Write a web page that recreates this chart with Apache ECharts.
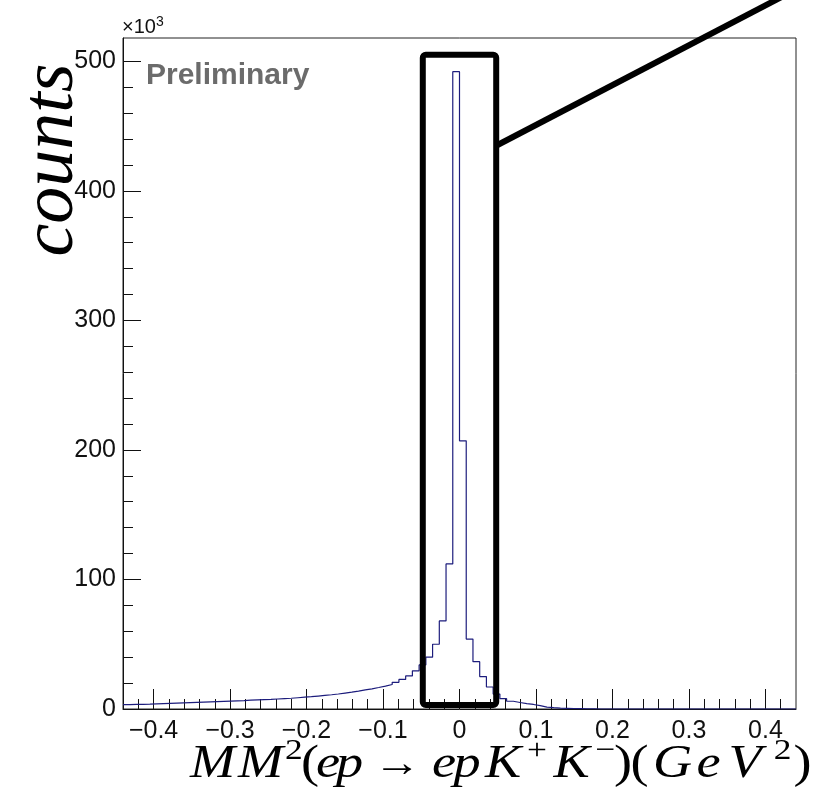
<!DOCTYPE html>
<html><head><meta charset="utf-8">
<script src="https://cdn.jsdelivr.net/npm/echarts@6/dist/echarts.min.js"></script>
<style>html,body{margin:0;padding:0;background:#fff}#c{width:816px;height:805px}</style>
</head><body><div id="c"></div>
<script>
// ---- data (counts in units of 10^3) ----
const binLow = -0.44, binHigh = 0.44, nBins = 100;
// bins from -0.44 up to 0
const countsLeft = [
  3.4, 3.5, 3.6, 3.7, 3.9, 4.1, 4.3, 4.5, 4.7, 4.9,
  5.1, 5.3, 5.5, 5.7, 5.9, 6.1, 6.3, 6.5, 6.8, 7.0,
  7.2, 7.4, 7.7, 8.0, 8.3, 8.7, 9.1, 9.5, 10.0, 10.5,
  11.0, 11.6, 12.3, 13.0, 13.8, 14.7, 15.6, 16.6, 17.7, 18.9,
  20.6, 22.8, 25.5, 29.5, 34, 40, 50, 68, 112, 492
];
// bins from 0 up to 0.44
const countsRight = [
  207, 54, 36.5, 25, 17, 11.5, 8, 6, 5, 4.2,
  3.5, 2.6, 1.5, 1.0, 0.6, 0.5, 0.4, 0.3, 0.2, 0.2,
  0, 0, 0, 0, 0, 0, 0, 0, 0, 0,
  0, 0, 0, 0, 0, 0, 0, 0, 0, 0,
  0, 0, 0, 0, 0, 0, 0, 0, 0, 0
];
const xMajorTicks = [-0.4, -0.3, -0.2, -0.1, 0, 0.1, 0.2, 0.3, 0.4];
const xMinorTicks = [-0.42, -0.38, -0.36, -0.34, -0.32, -0.28, -0.26, -0.24, -0.22,
  -0.18, -0.16, -0.14, -0.12, -0.08, -0.06, -0.04, -0.02,
  0.02, 0.04, 0.06, 0.08, 0.12, 0.14, 0.16, 0.18, 0.22, 0.24, 0.26, 0.28,
  0.32, 0.34, 0.36, 0.38, 0.42];
const yMajorTicks = [0, 100, 200, 300, 400, 500];
const yMinorTicks = [20, 40, 60, 80, 120, 140, 160, 180, 220, 240, 260, 280,
  320, 340, 360, 380, 420, 440, 460, 480];
const yMax = 518;
// annotation box and pointer (data coordinates)
const boxX = [-0.048, 0.048];
const boxY = [3, 505];
const pointerFrom = [0.0485, 435];
const pointerTo = [0.445, 557];

// ---- build histogram step data ----
const counts = countsLeft.concat(countsRight);
const binWidth = (binHigh - binLow) / nBins;
const histData = counts.map((v, i) => [binLow + i * binWidth, v]);
histData.push([binHigh, counts[counts.length - 1]]);

const fmtX = v => Math.abs(v) < 1e-9 ? '0' : (v < 0 ? '\u2212' : '') + Math.abs(v).toFixed(1);

const chart = echarts.init(document.getElementById('c'), null, {renderer: 'canvas'});
const axisCommon = {type: 'value', splitLine: {show: false}};
const labelFont = {color: '#111', fontSize: 25, fontFamily: 'Liberation Sans'};
chart.setOption({
  animation: false,
  backgroundColor: '#fff',
  grid: {left: 123, right: 20, top: 38, bottom: 96, show: true, borderColor: '#222', borderWidth: 1, backgroundColor: 'transparent'},
  xAxis: [
    Object.assign({}, axisCommon, {
      min: binLow, max: binHigh, position: 'bottom',
      axisLine: {show: true, onZero: false, lineStyle: {color: '#111', width: 1}},
      axisTick: {show: true, inside: true, length: 20, customValues: xMajorTicks, lineStyle: {color: '#111', width: 1}},
      axisLabel: Object.assign({show: true, customValues: xMajorTicks, formatter: fmtX, margin: 10}, labelFont)
    }),
    Object.assign({}, axisCommon, {
      min: binLow, max: binHigh, position: 'bottom',
      axisLine: {show: false, onZero: false},
      axisTick: {show: true, inside: true, length: 10, customValues: xMinorTicks, lineStyle: {color: '#111', width: 1}},
      axisLabel: {show: false}
    })
  ],
  yAxis: [
    Object.assign({}, axisCommon, {
      min: 0, max: yMax, position: 'left',
      axisLine: {show: true, onZero: false, lineStyle: {color: '#111', width: 1}},
      axisTick: {show: true, inside: true, length: 18, customValues: yMajorTicks, lineStyle: {color: '#111', width: 1}},
      axisLabel: Object.assign({show: true, customValues: yMajorTicks, margin: 7}, labelFont)
    }),
    Object.assign({}, axisCommon, {
      min: 0, max: yMax, position: 'left',
      axisLine: {show: false, onZero: false},
      axisTick: {show: true, inside: true, length: 10, customValues: yMinorTicks, lineStyle: {color: '#111', width: 1}},
      axisLabel: {show: false}
    })
  ],
  series: [{
    type: 'line', xAxisIndex: 0, yAxisIndex: 0, step: 'end',
    data: histData, symbol: 'none', clip: true,
    lineStyle: {color: '#1c1c7c', width: 1.2}
  }]
});

const toPx = p => chart.convertToPixel({xAxisIndex: 0, yAxisIndex: 0}, p);
const b0 = toPx([boxX[0], boxY[1]]);
const b1 = toPx([boxX[1], boxY[0]]);
const l0 = toPx(pointerFrom);
const l1 = toPx(pointerTo);

// x-axis title, laid out glyph by glyph (LaTeX-like math italic)
const titleScale = 1.18;
const baseStyles = {
  i: {fontFamily: 'Liberation Serif', fontStyle: 'italic', fontSize: 46, lineHeight: 58},
  r: {fontFamily: 'Liberation Serif', fontSize: 46, lineHeight: 58},
  a: {fontFamily: 'Liberation Serif', fontSize: 40, lineHeight: 58, align: 'center'},
  s: {fontFamily: 'Liberation Serif', fontSize: 30, lineHeight: 13, verticalAlign: 'top'}
};
const titleGlyphs = [
  ['M', 'i', 48], ['M', 'i', 47], ['2', 's', 16], ['(', 'r', 15], ['e', 'i', 20], ['p', 'i', 25],
  ['\u2192', 'a', 72], ['e', 'i', 22], ['p', 'i', 24], ['K', 'i', 48], ['+', 's', 20],
  ['K', 'i', 49], ['\u2212', 's', 19], [')', 'r', 16], ['(', 'r', 17], ['G', 'i', 49],
  ['e', 'i', 23], ['V', 'i', 50], ['2', 's', 25], [')', 'r', 15]
];
const titleRich = {};
let titleText = '';
titleGlyphs.forEach((g, k) => {
  titleRich['g' + k] = Object.assign({fill: '#000', color: '#000', width: g[2] / titleScale}, baseStyles[g[1]]);
  titleText += '{g' + k + '|' + g[0] + '}';
});

chart.setOption({
  graphic: [
    {type: 'rect', z: 100, shape: {x: b0[0], y: b0[1], width: b1[0] - b0[0], height: b1[1] - b0[1], r: 3},
     style: {fill: 'none', stroke: '#000', lineWidth: 6}},
    {type: 'line', z: 100, shape: {x1: l0[0], y1: l0[1], x2: l1[0], y2: l1[1]},
     style: {stroke: '#000', lineWidth: 6}},
    {type: 'text', z: 100, x: 146, y: 91,
     style: {text: 'Preliminary', font: 'bold 30px "Liberation Sans"', fill: '#6b6b6b', verticalAlign: 'bottom'}},
    {type: 'text', z: 100, x: 122, y: 39,
     style: {text: '{a|\u00d710}{b|3}', verticalAlign: 'bottom',
       rich: {a: {fontFamily: 'Liberation Sans', fontSize: 20, lineHeight: 24, fill: '#111', color: '#111'},
              b: {fontFamily: 'Liberation Sans', fontSize: 14, lineHeight: 12, verticalAlign: 'top', fill: '#111', color: '#111'}}}},
    {type: 'text', z: 100, x: 53, y: 160, rotation: Math.PI / 2,
     style: {text: 'counts', font: 'italic 74px "Liberation Serif"', fill: '#000', align: 'center', verticalAlign: 'middle'}},
    {type: 'text', z: 100, x: 190, y: 736, scaleX: titleScale,
     style: {text: titleText, align: 'left', verticalAlign: 'top', rich: titleRich}}
  ]
});
</script></body></html>
